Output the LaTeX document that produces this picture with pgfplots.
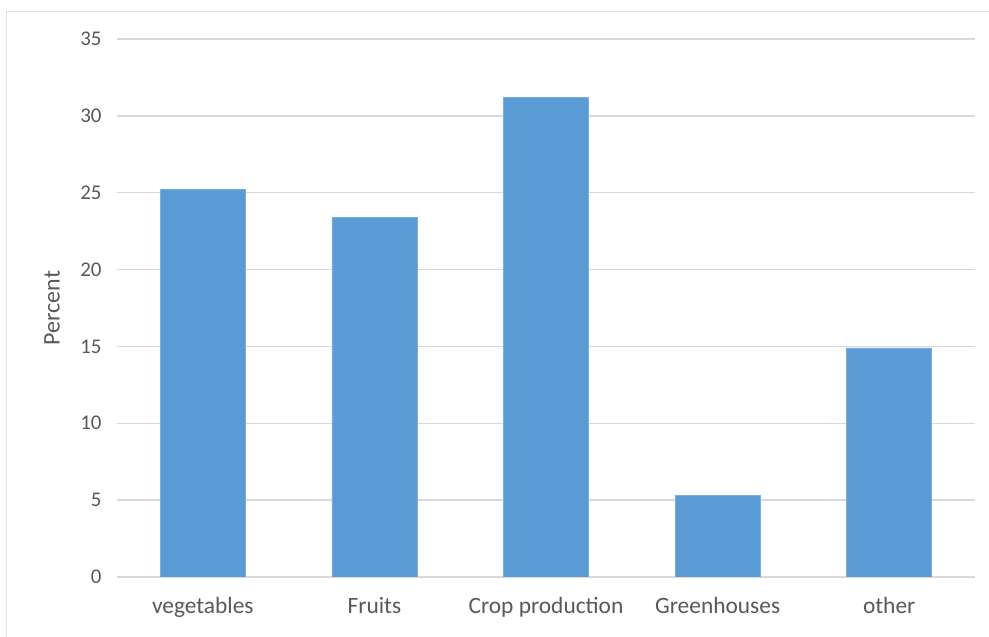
\documentclass[border=0pt]{standalone}
\usepackage{pgfplots}
\pgfplotsset{compat=1.18}
\usepackage{fontspec}
\setmainfont{Carlito}
\definecolor{barblue}{HTML}{5B9BD5}
\definecolor{gridgray}{HTML}{D9D9D9}
\definecolor{textgray}{HTML}{595959}
\definecolor{framegray}{HTML}{E0E0E0}
\begin{document}
\begin{tikzpicture}[x=1bp,y=1bp]
\useasboundingbox (0,0) rectangle (989,637);
\fill[white] (0,0) rectangle (989,637);
% chart frame
\draw[framegray, line width=1bp] (6,-5) rectangle (995,625);
\begin{axis}[
  at={(117bp,60bp)}, anchor=south west,
  scale only axis,
  width=858bp, height=538bp,
  xmin=-0.5, xmax=4.5,
  ymin=0, ymax=35,
  ytick={0,5,...,35},
  xtick=data,
  xticklabels={vegetables,Fruits,Crop production,Greenhouses,other},
  axis line style={draw=none},
  major tick style={draw=none},
  ymajorgrids,
  grid style={gridgray, line width=1.5bp},
  /pgf/number format/assume math mode=true,
  yticklabel style={font=\fontsize{21}{23}\selectfont, text=textgray, anchor=east, xshift=-12bp},
  xticklabel style={font=\fontsize{23.5}{25}\selectfont, text=textgray, yshift=-17bp},
  ylabel={Percent},
  every axis y label/.style={at={(axis description cs:-0.0758,0.5)}, rotate=90, anchor=center,
    font=\fontsize{24}{26}\selectfont, text=textgray},
]
\addplot[ybar, bar width=85bp, fill=barblue, draw=barblue!80!white, line width=0.6bp]
  coordinates {(0,25.2) (1,23.4) (2,31.2) (3,5.3) (4,14.9)};
\end{axis}
\end{tikzpicture}
\end{document}
